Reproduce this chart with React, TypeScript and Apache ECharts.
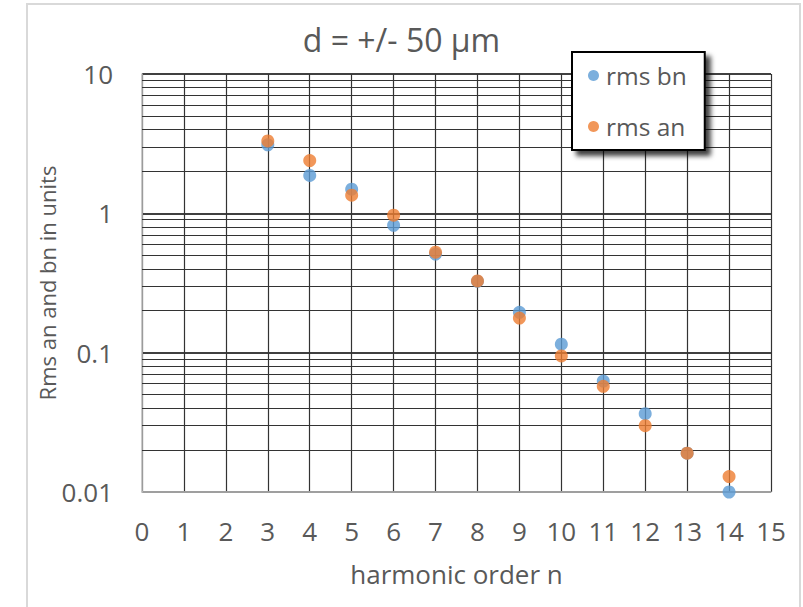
import React, { useEffect, useRef } from "react";
import * as echarts from "echarts";

const harmonicOrders = [3, 4, 5, 6, 7, 8, 9, 10, 11, 12, 13, 14];
const rmsBn = [3.1, 1.87, 1.49, 0.82, 0.51, 0.325, 0.195, 0.115, 0.0626, 0.0365, 0.019, 0.01];
const rmsAn = [3.31, 2.39, 1.35, 0.97, 0.526, 0.327, 0.177, 0.0947, 0.0574, 0.0299, 0.019, 0.0129];
const yTickLabels = ["0.01", "0.1", "1", "10"];
const minorMultipliers = [2, 3, 4, 5, 6, 7, 8, 9];
const minorDecades = [0.01, 0.1, 1];

const FONT = "Open Sans";
const TEXT = "#595959";
const GRID = "#333333";

export default function App() {
  const ref = useRef<HTMLDivElement>(null);
  useEffect(() => {
    if (!ref.current) return;
    const chart = echarts.init(ref.current, null, { renderer: "svg" });
    const minorLines: { yAxis: number }[] = [];
    minorDecades.forEach((d) =>
      minorMultipliers.forEach((m) => minorLines.push({ yAxis: +(m * d).toPrecision(3) }))
    );
    chart.setOption({
      animation: false,
      backgroundColor: "#ffffff",
      textStyle: { fontFamily: FONT },
      title: {
        text: "d = +/- 50 µm",
        left: "center",
        top: 18,
        textStyle: { fontFamily: FONT, fontSize: 32, fontWeight: "normal", color: TEXT },
      },
      graphic: [
        {
          type: "rect",
          shape: { x: 27, y: 4, width: 773, height: 640 },
          style: { fill: "none", stroke: "#d9d9d9", lineWidth: 2 },
          silent: true,
          z: -1,
        },
      ],
      legend: {
        data: ["rms bn", "rms an"],
        orient: "vertical",
        left: 572,
        top: 52,
        padding: [11, 18, 11, 16],
        itemGap: 26,
        itemWidth: 11,
        itemHeight: 11,
        icon: "circle",
        backgroundColor: "#ffffff",
        borderColor: "#000000",
        borderWidth: 2,
        shadowColor: "rgba(0,0,0,0.75)",
        shadowBlur: 5,
        shadowOffsetX: 5,
        shadowOffsetY: 5,
        textStyle: { fontFamily: FONT, fontSize: 24.5, color: TEXT, width: 84, padding: [0, 0, 0, 2] },
      },
      grid: { left: 142, top: 74, right: 32, bottom: 115, containLabel: false },
      xAxis: {
        type: "value",
        min: 0,
        max: 15,
        interval: 1,
        name: "harmonic order n",
        nameLocation: "middle",
        nameGap: 69,
        nameTextStyle: { fontFamily: FONT, fontSize: 26, color: TEXT },
        axisLine: { show: true, lineStyle: { color: "#bfbfbf", width: 1.5 } },
        axisTick: { show: false },
        axisLabel: { fontFamily: FONT, fontSize: 26, color: TEXT, margin: 26 },
        splitLine: { show: true, lineStyle: { color: GRID, width: 1.2 } },
      },
      yAxis: {
        type: "log",
        logBase: 10,
        min: 0.01,
        max: 10,
        name: "Rms an and bn in units",
        nameLocation: "middle",
        nameGap: 84,
        nameMoveOverlap: false,
        nameTextStyle: { fontFamily: FONT, fontSize: 22, color: TEXT },
        axisLine: { show: true, lineStyle: { color: "#bfbfbf", width: 1.5 } },
        axisTick: { show: false },
        axisLabel: {
          fontFamily: FONT,
          fontSize: 26,
          color: TEXT,
          margin: 29,
          formatter: (v: number) => {
            const found = yTickLabels.find((t) => Math.abs(parseFloat(t) - v) / v < 1e-6);
            return found ?? String(v);
          },
        },
        splitLine: { show: true, lineStyle: { color: "#000000", width: 1.5 } },
      },
      series: [
        {
          name: "rms bn",
          type: "scatter",
          symbol: "circle",
          symbolSize: 13,
          itemStyle: { color: "#5B9BD5" },
          data: harmonicOrders.map((n, i) => [n, rmsBn[i]]),
          z: 3,
          markLine: {
            silent: true,
            symbol: ["none", "none"],
            label: { show: false },
            z: 1,
            lineStyle: { type: "solid", color: GRID, width: 1.2 },
            emphasis: { disabled: true },
            data: minorLines,
          },
        },
        {
          name: "rms an",
          type: "scatter",
          symbol: "circle",
          symbolSize: 13,
          itemStyle: { color: "#ED7D31" },
          data: harmonicOrders.map((n, i) => [n, rmsAn[i]]),
          z: 4,
        },
      ],
    });
    return () => chart.dispose();
  }, []);
  return (
    <div
      ref={ref}
      style={{ position: "fixed", left: 0, top: 0, width: 803, height: 607, background: "#fff" }}
    />
  );
}
